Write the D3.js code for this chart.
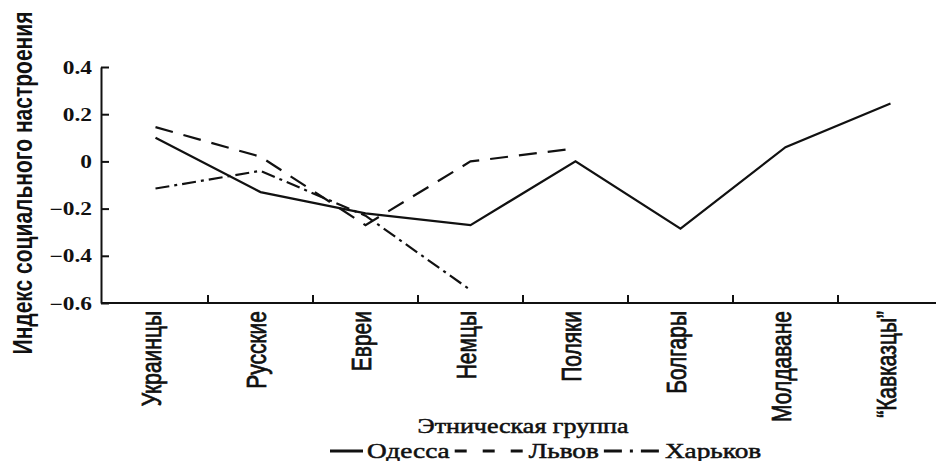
<!DOCTYPE html>
<html><head><meta charset="utf-8">
<script src="https://cdn.jsdelivr.net/npm/d3@7"></script>
<style>
body{margin:0;background:#fff}svg{display:block}
.serif{font-family:"Liberation Serif","Times New Roman",serif}
.sans{font-family:"Liberation Sans",Arial,sans-serif}
</style>
</head><body>
<svg id="c" width="936" height="461"></svg>
<script>
const categories = ["Украинцы","Русские","Евреи","Немцы","Поляки","Болгары","Молдаване","\u201CКавказцы\u201D"];
const odessa  = [0.10, -0.13, -0.22, -0.27, 0.00, -0.285, 0.06, 0.245];
const lviv    = [0.145, 0.02, -0.27, 0.00, 0.055];
const kharkov = [-0.115, -0.04, -0.23, -0.545];
const yTicks = [-0.6, -0.4, -0.2, 0, 0.2, 0.4];
const seriesNames = ["Одесса","Львов","Харьков"];
const yTitle = "Индекс социального настроения";
const xTitle = "Этническая группа";

const svg = d3.select("#c");
const ink = "#111";
const SX = 1.3;

const x = d3.scaleBand().domain(categories).range([103, 943]).padding(0);
const y = d3.scaleLinear().domain([-0.6, 0.4]).range([303, 67]);
const cx = c => x(c) + x.bandwidth()/2;

// Y axis
const yAxis = d3.axisLeft(y).tickValues(yTicks).tickSize(-8).tickSizeOuter(0)
  .tickFormat(d => d === 0 ? "0" : d3.format(".1f")(d).replace("-", "\u2212"));
const gy = svg.append("g").attr("transform", "translate(101,0)").call(yAxis)
  .attr("font-family", null).attr("font-size", null);
gy.select(".domain").attr("stroke", ink).attr("stroke-width", 2);
gy.selectAll(".tick line").attr("stroke", ink).attr("stroke-width", 2);
gy.selectAll(".tick text").attr("x", null).attr("dy", "0.34em")
  .attr("class", "serif").style("font-weight", "bold")
  .attr("transform", "translate(-9,0) scale(" + SX + ",1)")
  .style("font-size", "18px").attr("fill", ink).attr("text-anchor", "end");

// X axis
const xAxis = d3.axisBottom(x).tickSize(0).tickSizeOuter(0);
const gx = svg.append("g").attr("transform", "translate(0,303)").call(xAxis)
  .attr("font-family", null).attr("font-size", null);
gx.select(".domain").attr("d", "M101,0H936").attr("stroke", ink).attr("stroke-width", 2);
gx.selectAll(".tick text")
  .attr("y", null).attr("dy", "0.35em").attr("text-anchor", "end")
  .attr("class", "sans")
  .attr("transform", "translate(-4,8) rotate(-90) scale(1," + SX + ")")
  .style("font-size", "21px").attr("fill", ink)
  .attr("stroke", ink).attr("stroke-width", 0.6);
// inner ticks at band boundaries
svg.append("g").selectAll("line").data(categories.slice(1)).join("line")
  .attr("x1", d => x(d)).attr("x2", d => x(d)).attr("y1", 303).attr("y2", 295)
  .attr("stroke", ink).attr("stroke-width", 2);

// lines
const line = d3.line().x((d, i) => cx(categories[i])).y(d => y(d));
const styles = [
  {data: odessa, dash: null},
  {data: lviv, dash: "18,11"},
  {data: kharkov, dash: "14,5,3,5"}
];
svg.append("g").selectAll("path").data(styles).join("path")
  .attr("d", s => line(s.data)).attr("fill", "none").attr("stroke", ink)
  .attr("stroke-width", 2.2).attr("stroke-dasharray", s => s.dash);

// y title
svg.append("text").text(yTitle).attr("class", "sans")
  .attr("transform", "translate(22,183) rotate(-90) scale(1," + SX + ")")
  .attr("text-anchor", "middle").attr("dy", "0.35em")
  .style("font-weight", "bold").style("font-size", "21px").attr("fill", ink);

// x title
svg.append("text").text(xTitle).attr("class", "serif")
  .attr("transform", "translate(523,433) scale(" + SX + ",1)")
  .attr("text-anchor", "middle")
  .style("font-size", "20px").attr("fill", ink)
  .attr("stroke", ink).attr("stroke-width", 0.5);

// legend
const legendSamples = [33, 70, 57];
const lg = svg.append("g");
let lx = 330;
seriesNames.forEach((name, i) => {
  lg.append("line").attr("x1", lx).attr("x2", lx + legendSamples[i])
    .attr("y1", 451).attr("y2", 451).attr("stroke", ink).attr("stroke-width", 3)
    .attr("stroke-dasharray", i === 1 ? "12,16" : i === 2 ? "18,8,3,8" : null);
  lx += legendSamples[i] + 4;
  const t = lg.append("text").text(name).attr("class", "serif")
    .attr("transform", "translate(" + lx + ",458) scale(" + SX + ",1)")
    .style("font-size", "21px").attr("fill", ink)
    .attr("stroke", ink).attr("stroke-width", 0.5);
  lx += t.node().getComputedTextLength() * SX + 5;
});
</script>
</body></html>
